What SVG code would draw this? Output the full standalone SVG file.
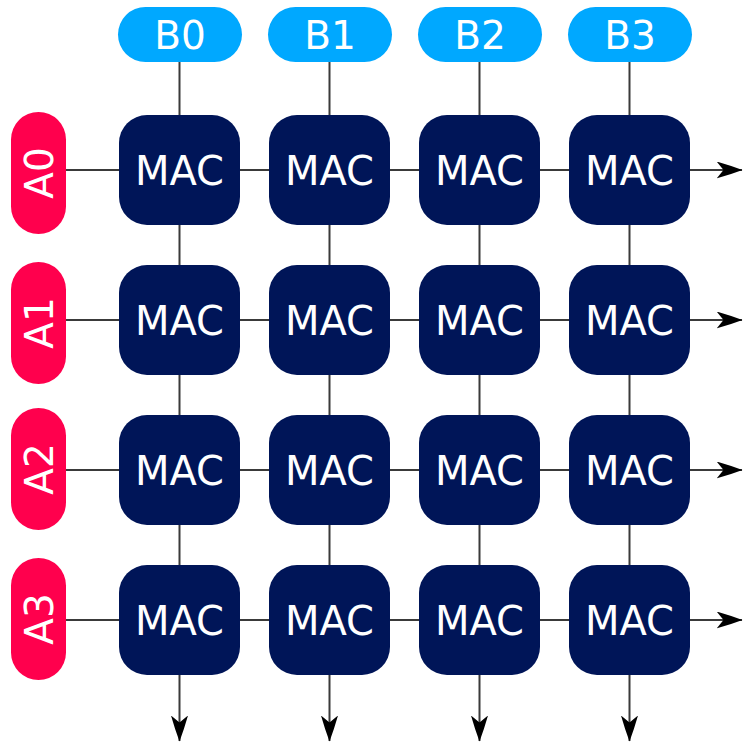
<svg xmlns="http://www.w3.org/2000/svg" width="743" height="744" viewBox="0 0 743 744">
<defs>
<marker id="arr" viewBox="0 0 26 17" refX="25.5" refY="8.5" markerWidth="26" markerHeight="17" markerUnits="userSpaceOnUse" orient="auto">
<path d="M0,0 Q14,4 26,8.5 Q14,13 0,17 L7,8.5 z" fill="#000"/>
</marker>
</defs>
<style>
.ln{stroke:#3a3a3a;stroke-width:2;fill:none}
.mac rect{fill:#001558}
.a rect{fill:#ff004d}
.b rect{fill:#00a8ff}
text{font-family:"DejaVu Sans",sans-serif;fill:#fff;text-anchor:middle}
.mac text{font-size:40px}
.a text,.b text{font-size:39px}
</style>
<rect width="743" height="744" fill="#fff"/>
<g id="connectors">
<line class="ln" x1="66" y1="170" x2="742" y2="170" marker-end="url(#arr)"/>
<line class="ln" x1="66" y1="320" x2="742" y2="320" marker-end="url(#arr)"/>
<line class="ln" x1="66" y1="470" x2="742" y2="470" marker-end="url(#arr)"/>
<line class="ln" x1="66" y1="620" x2="742" y2="620" marker-end="url(#arr)"/>
<line class="ln" x1="179.5" y1="62" x2="179.5" y2="741" marker-end="url(#arr)"/>
<line class="ln" x1="329.5" y1="62" x2="329.5" y2="741" marker-end="url(#arr)"/>
<line class="ln" x1="479.5" y1="62" x2="479.5" y2="741" marker-end="url(#arr)"/>
<line class="ln" x1="629.5" y1="62" x2="629.5" y2="741" marker-end="url(#arr)"/>
</g>
<g id="B0" class="b"><rect x="118" y="7" width="124" height="55" rx="27.5"/><text x="180" y="49">B0</text></g>
<g id="B1" class="b"><rect x="268" y="7" width="124" height="55" rx="27.5"/><text x="330" y="49">B1</text></g>
<g id="B2" class="b"><rect x="418" y="7" width="124" height="55" rx="27.5"/><text x="480" y="49">B2</text></g>
<g id="B3" class="b"><rect x="568" y="7" width="124" height="55" rx="27.5"/><text x="630" y="49">B3</text></g>
<g id="A0" class="a"><rect x="11" y="112" width="55" height="122" rx="27.5"/><text transform="translate(52.5,173) rotate(-90)">A0</text></g>
<g id="A1" class="a"><rect x="11" y="262" width="55" height="122" rx="27.5"/><text transform="translate(52.5,323) rotate(-90)">A1</text></g>
<g id="A2" class="a"><rect x="11" y="408" width="55" height="122" rx="27.5"/><text transform="translate(52.5,469) rotate(-90)">A2</text></g>
<g id="A3" class="a"><rect x="11" y="558" width="55" height="122" rx="27.5"/><text transform="translate(52.5,619) rotate(-90)">A3</text></g>
<g id="MAC00" class="mac"><rect x="119" y="115" width="121" height="110" rx="28"/><text x="179.5" y="185">MAC</text></g>
<g id="MAC01" class="mac"><rect x="269" y="115" width="121" height="110" rx="28"/><text x="329.5" y="185">MAC</text></g>
<g id="MAC02" class="mac"><rect x="419" y="115" width="121" height="110" rx="28"/><text x="479.5" y="185">MAC</text></g>
<g id="MAC03" class="mac"><rect x="569" y="115" width="121" height="110" rx="28"/><text x="629.5" y="185">MAC</text></g>
<g id="MAC10" class="mac"><rect x="119" y="265" width="121" height="110" rx="28"/><text x="179.5" y="335">MAC</text></g>
<g id="MAC11" class="mac"><rect x="269" y="265" width="121" height="110" rx="28"/><text x="329.5" y="335">MAC</text></g>
<g id="MAC12" class="mac"><rect x="419" y="265" width="121" height="110" rx="28"/><text x="479.5" y="335">MAC</text></g>
<g id="MAC13" class="mac"><rect x="569" y="265" width="121" height="110" rx="28"/><text x="629.5" y="335">MAC</text></g>
<g id="MAC20" class="mac"><rect x="119" y="415" width="121" height="110" rx="28"/><text x="179.5" y="485">MAC</text></g>
<g id="MAC21" class="mac"><rect x="269" y="415" width="121" height="110" rx="28"/><text x="329.5" y="485">MAC</text></g>
<g id="MAC22" class="mac"><rect x="419" y="415" width="121" height="110" rx="28"/><text x="479.5" y="485">MAC</text></g>
<g id="MAC23" class="mac"><rect x="569" y="415" width="121" height="110" rx="28"/><text x="629.5" y="485">MAC</text></g>
<g id="MAC30" class="mac"><rect x="119" y="565" width="121" height="110" rx="28"/><text x="179.5" y="635">MAC</text></g>
<g id="MAC31" class="mac"><rect x="269" y="565" width="121" height="110" rx="28"/><text x="329.5" y="635">MAC</text></g>
<g id="MAC32" class="mac"><rect x="419" y="565" width="121" height="110" rx="28"/><text x="479.5" y="635">MAC</text></g>
<g id="MAC33" class="mac"><rect x="569" y="565" width="121" height="110" rx="28"/><text x="629.5" y="635">MAC</text></g>
</svg>
